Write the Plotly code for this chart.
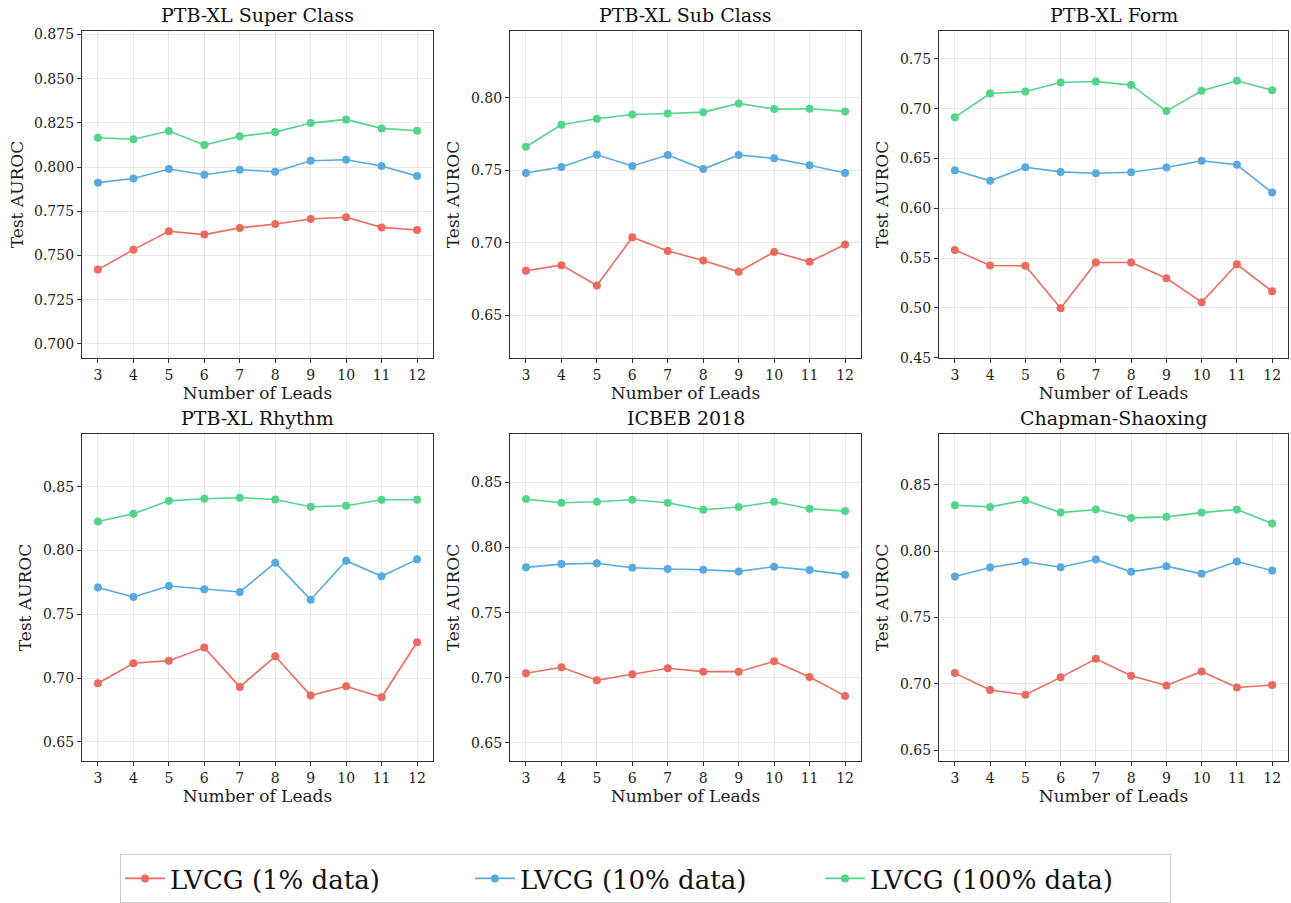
import plotly.graph_objects as go

leads = [3, 4, 5, 6, 7, 8, 9, 10, 11, 12]
titles = ["PTB-XL Super Class", "PTB-XL Sub Class", "PTB-XL Form",
          "PTB-XL Rhythm", "ICBEB 2018", "Chapman-Shaoxing"]
series_names = ["LVCG (1% data)", "LVCG (10% data)", "LVCG (100% data)"]
colors = ["#e74c3c", "#3498db", "#2ecc71"]

super_1 = [0.7420, 0.7533, 0.7637, 0.7618, 0.7656, 0.7678, 0.7706, 0.7716, 0.7659, 0.7644]
super_10 = [0.7912, 0.7936, 0.7989, 0.7957, 0.7985, 0.7974, 0.8036, 0.8042, 0.8006, 0.7949]
super_100 = [0.8166, 0.8158, 0.8204, 0.8125, 0.8174, 0.8198, 0.8249, 0.8270, 0.8219, 0.8206]

sub_1 = [0.6806, 0.6845, 0.6704, 0.7038, 0.6943, 0.6877, 0.6799, 0.6936, 0.6868, 0.6987]
sub_10 = [0.7481, 0.7522, 0.7607, 0.7529, 0.7605, 0.7508, 0.7605, 0.7582, 0.7534, 0.7481]
sub_100 = [0.7662, 0.7814, 0.7855, 0.7885, 0.7892, 0.7901, 0.7961, 0.7922, 0.7924, 0.7906]

form_1 = [0.5582, 0.5425, 0.5422, 0.4997, 0.5455, 0.5455, 0.5298, 0.5057, 0.5438, 0.5167]
form_10 = [0.6382, 0.6275, 0.6412, 0.6365, 0.6352, 0.6362, 0.6409, 0.6476, 0.6436, 0.6158]
form_100 = [0.6914, 0.7152, 0.7172, 0.7262, 0.7272, 0.7236, 0.6975, 0.7179, 0.7279, 0.7185]

rhythm_1 = [0.6960, 0.7116, 0.7137, 0.7239, 0.6931, 0.7171, 0.6863, 0.6936, 0.6850, 0.7281]
rhythm_10 = [0.7711, 0.7636, 0.7722, 0.7696, 0.7675, 0.7905, 0.7615, 0.7920, 0.7798, 0.7931]
rhythm_100 = [0.8228, 0.8289, 0.8390, 0.8406, 0.8414, 0.8401, 0.8343, 0.8351, 0.8398, 0.8398]

icbeb_1 = [0.7035, 0.7081, 0.6981, 0.7027, 0.7073, 0.7047, 0.7047, 0.7127, 0.7006, 0.6861]
icbeb_10 = [0.7848, 0.7873, 0.7879, 0.7845, 0.7835, 0.7830, 0.7817, 0.7853, 0.7827, 0.7792]
icbeb_100 = [0.8372, 0.8344, 0.8352, 0.8367, 0.8344, 0.8290, 0.8311, 0.8352, 0.8298, 0.8280]

chap_1 = [0.7080, 0.6952, 0.6917, 0.7048, 0.7188, 0.7060, 0.6987, 0.7093, 0.6972, 0.6990]
chap_10 = [0.7809, 0.7877, 0.7920, 0.7879, 0.7937, 0.7844, 0.7887, 0.7829, 0.7922, 0.7854]
chap_100 = [0.8347, 0.8334, 0.8384, 0.8291, 0.8314, 0.8251, 0.8259, 0.8291, 0.8314, 0.8209]

datasets = [
    (super_1, super_10, super_100),
    (sub_1, sub_10, sub_100),
    (form_1, form_10, form_100),
    (rhythm_1, rhythm_10, rhythm_100),
    (icbeb_1, icbeb_10, icbeb_100),
    (chap_1, chap_10, chap_100),
]
ytick_steps = [0.025, 0.05, 0.05, 0.05, 0.05, 0.05]
ytick_formats = [".3f", ".2f", ".2f", ".2f", ".2f", ".2f"]

W, H = 1291, 903
x_domains = [(82, 433), (510, 861), (939, 1288)]
y_domains = [(31, 358), (434, 761)]

FONT = "DejaVu Serif"
fig = go.Figure()

for i, data in enumerate(datasets):
    r, c = divmod(i, 3)
    idx = i + 1
    xa = "x" if idx == 1 else f"x{idx}"
    ya = "y" if idx == 1 else f"y{idx}"
    for j, vals in enumerate(data):
        fig.add_trace(go.Scatter(
            x=leads, y=vals, mode="lines+markers",
            name=series_names[j], legendgroup=series_names[j],
            showlegend=(i == 0),
            line=dict(color=colors[j], width=1.6),
            marker=dict(color=colors[j], size=8),
            opacity=0.82,
            xaxis=xa, yaxis=ya,
        ))
    allv = [v for s in data for v in s]
    ymin, ymax = min(allv) - 0.05, max(allv) + 0.05
    xd = x_domains[c]
    yd = y_domains[r]
    axis_common = dict(
        showline=True, linecolor="#333333", linewidth=1.2, mirror=True,
        ticks="outside", ticklen=4, tickcolor="#333333",
        showgrid=True, gridcolor="rgba(0,0,0,0.09)", gridwidth=1,
        zeroline=False,
        tickfont=dict(family=FONT, size=14, color="#222222"),
    )
    fig.layout[f"xaxis{idx if idx > 1 else ''}"] = dict(
        axis_common,
        domain=[xd[0] / W, xd[1] / W],
        anchor=ya,
        range=[2.55, 12.45], tickmode="linear", tick0=3, dtick=1,
        title=dict(text="Number of Leads", font=dict(family=FONT, size=17, color="#222222"), standoff=2),
    )
    fig.layout[f"yaxis{idx if idx > 1 else ''}"] = dict(
        axis_common,
        domain=[1 - yd[1] / H, 1 - yd[0] / H],
        anchor=xa,
        range=[ymin, ymax], tickmode="linear", tick0=0, dtick=ytick_steps[i],
        tickformat=ytick_formats[i],
        title=dict(text="Test AUROC", font=dict(family=FONT, size=17, color="#222222"), standoff=6),
    )
    fig.add_annotation(
        text=titles[i], xref="paper", yref="paper",
        x=(xd[0] + xd[1]) / 2 / W, y=1 - yd[0] / H + 3 / H,
        xanchor="center", yanchor="bottom", showarrow=False,
        font=dict(family=FONT, size=19, color="#111111"),
    )

fig.update_layout(
    width=W, height=H,
    margin=dict(l=0, r=0, t=0, b=0, autoexpand=False),
    paper_bgcolor="white", plot_bgcolor="white",
    font=dict(family=FONT, color="#222222"),
    legend=dict(
        orientation="h", x=0.5, xanchor="center",
        yref="container", y=0, yanchor="bottom",
        font=dict(family=FONT, size=26, color="#111111"),
        bordercolor="#cccccc", borderwidth=1, bgcolor="white",
        itemwidth=40, entrywidth=295, entrywidthmode="pixels",
    ),
)

fig.write_html("out.html")
